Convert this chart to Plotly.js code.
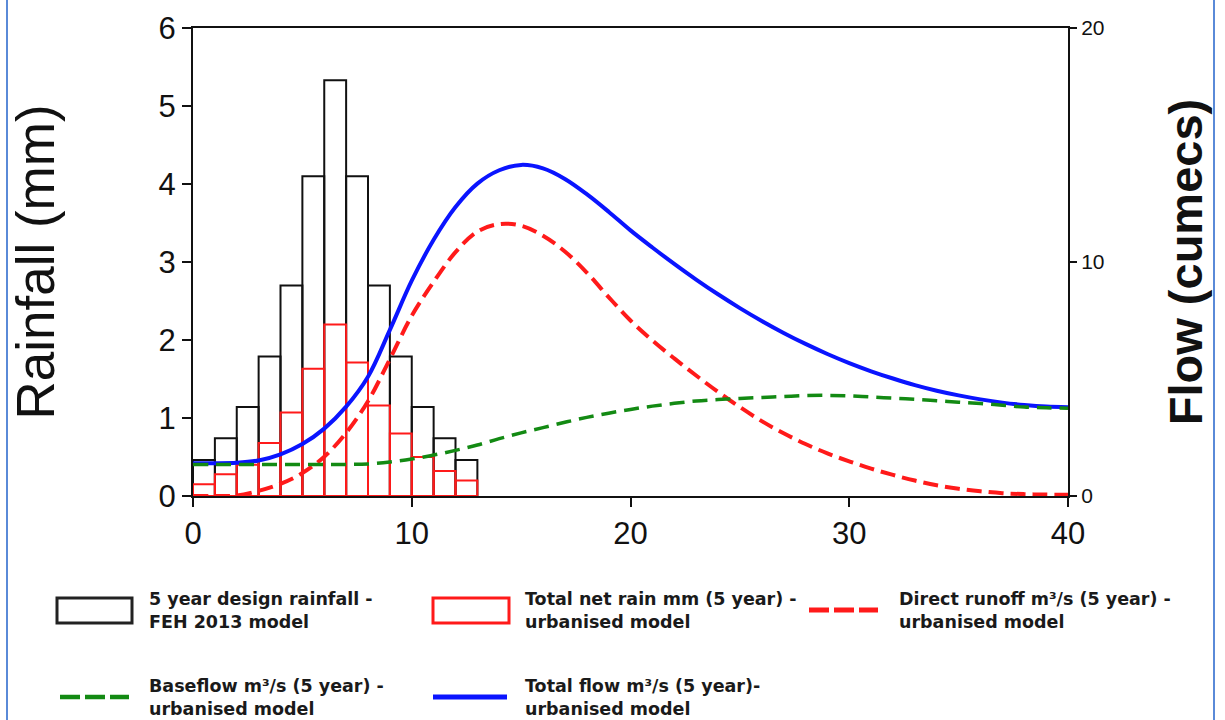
<!DOCTYPE html>
<html>
<head>
<meta charset="utf-8">
<script src="https://cdn.plot.ly/plotly-3.0.1.min.js"></script>
<style>
  html, body { margin: 0; padding: 0; background: #ffffff; }
  #chart { width: 1225px; height: 720px; }
</style>
</head>
<body>
<div id="chart"></div>
<script>
// ---- Data ----
// Hyetograph (mm per 1-hour step), bar centres
const rainHours = [0.5, 1.5, 2.5, 3.5, 4.5, 5.5, 6.5, 7.5, 8.5, 9.5, 10.5, 11.5, 12.5];
const designRain = [0.46, 0.74, 1.14, 1.79, 2.70, 4.10, 5.33, 4.10, 2.70, 1.79, 1.14, 0.74, 0.46];
const netRain = [0.15, 0.28, 0.40, 0.68, 1.07, 1.63, 2.20, 1.71, 1.16, 0.80, 0.50, 0.32, 0.20];

// Hydrograph (m3/s)
const flowHours = [0, 1, 2, 3, 4, 5, 6, 7, 8, 9, 10, 11, 12, 13, 14, 15, 16, 17, 18, 19, 20,
                   21, 22, 23, 24, 25, 26, 27, 28, 29, 30, 31, 32, 33, 34, 35, 36, 37, 38, 39, 40];
const totalFlow = [1.40, 1.40, 1.42, 1.52, 1.78, 2.22, 2.88, 3.82, 5.10, 7.10, 9.20, 10.95, 12.35, 13.35, 13.92, 14.15, 14.00, 13.55, 12.90, 12.15, 11.35,
                   10.62, 9.92, 9.25, 8.62, 8.03, 7.48, 6.97, 6.50, 6.07, 5.68, 5.33, 5.02, 4.74, 4.50, 4.30, 4.13, 3.99, 3.89, 3.82, 3.79];
const directRunoff = [0.00, 0.00, 0.02, 0.22, 0.52, 0.98, 1.68, 2.70, 4.05, 5.85, 7.70, 9.15, 10.42, 11.30, 11.62, 11.55, 11.12, 10.45, 9.55, 8.50, 7.50,
                      6.65, 5.88, 5.15, 4.45, 3.80, 3.20, 2.68, 2.22, 1.82, 1.48, 1.17, 0.90, 0.66, 0.46, 0.31, 0.20, 0.12, 0.08, 0.06, 0.05];
const baseflow = [1.35, 1.35, 1.35, 1.35, 1.35, 1.35, 1.35, 1.35, 1.37, 1.45, 1.58, 1.75, 1.95, 2.18, 2.45, 2.70, 2.92, 3.15, 3.36, 3.54, 3.70,
                  3.84, 3.96, 4.06, 4.12, 4.17, 4.21, 4.25, 4.29, 4.30, 4.28, 4.23, 4.18, 4.13, 4.07, 4.01, 3.95, 3.88, 3.80, 3.77, 3.75];

// Tick labels / ranges
const xTicks = [0, 10, 20, 30, 40];
const rainTicks = [0, 1, 2, 3, 4, 5, 6];
const flowTicks = [0, 10, 20];

// Legend labels
const legendLabels = [
  "5 year design rainfall -<br>FEH 2013 model",
  "Total net rain mm (5 year) -<br>urbanised model",
  "Direct runoff m³/s (5 year) -<br>urbanised model",
  "Baseflow m³/s (5 year) -<br>urbanised model",
  "Total flow m³/s (5 year)-<br>urbanised model"
];

// ---- Layout helpers (pixel -> paper) ----
const PL = 193, PR = 1068, PT = 28, PB = 496;
const px2x = p => (p - PL) / (PR - PL);
const py2y = p => (PB - p) / (PB - PT);

const AX = "Arial, 'Liberation Sans', sans-serif";
const LEG = "'DejaVu Sans', Verdana, sans-serif";

const traces = [
  {
    type: 'bar', x: rainHours, y: designRain, width: 1,
    marker: { color: 'rgba(255,255,255,0)', line: { color: '#111111', width: 2 } },
    name: 'design', hoverinfo: 'x+y', showlegend: false
  },
  {
    type: 'bar', x: rainHours, y: netRain, width: 1,
    marker: { color: 'rgba(255,255,255,0)', line: { color: '#ff1a1a', width: 2 } },
    name: 'net', hoverinfo: 'x+y', showlegend: false
  },
  {
    type: 'scatter', mode: 'lines', x: flowHours, y: totalFlow, yaxis: 'y2',
    line: { color: '#0a14ff', width: 4, shape: 'spline', smoothing: 1 },
    name: 'total', showlegend: false
  },
  {
    type: 'scatter', mode: 'lines', x: flowHours, y: directRunoff, yaxis: 'y2',
    line: { color: '#ff1a1a', width: 4, dash: '15px,7px', shape: 'spline', smoothing: 1 },
    name: 'direct', showlegend: false
  },
  {
    type: 'scatter', mode: 'lines', x: flowHours, y: baseflow, yaxis: 'y2',
    line: { color: '#138a13', width: 3.5, dash: '15px,8px', shape: 'spline', smoothing: 1 },
    name: 'base', showlegend: false
  }
];

// Legend built from shapes + annotations
const shapes = [
  { type: 'rect', xref: 'paper', yref: 'paper', x0: px2x(57), x1: px2x(132), y0: py2y(623), y1: py2y(598),
    line: { color: '#222222', width: 3 }, fillcolor: 'rgba(0,0,0,0)' },
  { type: 'rect', xref: 'paper', yref: 'paper', x0: px2x(433), x1: px2x(509), y0: py2y(623), y1: py2y(598),
    line: { color: '#ff1a1a', width: 3 }, fillcolor: 'rgba(0,0,0,0)' },
  { type: 'line', xref: 'paper', yref: 'paper', x0: px2x(809), x1: px2x(878), y0: py2y(610), y1: py2y(610),
    line: { color: '#ff1a1a', width: 5, dash: '20px,5px' } },
  { type: 'line', xref: 'paper', yref: 'paper', x0: px2x(60), x1: px2x(129), y0: py2y(697), y1: py2y(697),
    line: { color: '#138a13', width: 4.5, dash: '20px,5px' } },
  { type: 'line', xref: 'paper', yref: 'paper', x0: px2x(433), x1: px2x(507), y0: py2y(697), y1: py2y(697),
    line: { color: '#0a14ff', width: 5 } },
  // outer blue frame edges of the picture
  { type: 'line', xref: 'paper', yref: 'paper', x0: px2x(7), x1: px2x(7), y0: py2y(0), y1: py2y(720),
    line: { color: '#5a8ad8', width: 2 } },
  { type: 'line', xref: 'paper', yref: 'paper', x0: px2x(1214), x1: px2x(1214), y0: py2y(0), y1: py2y(720),
    line: { color: '#5a8ad8', width: 2 } }
];

const legPos = [[147, 610], [523, 610], [897, 610], [147, 697], [523, 697]];
const annotations = legendLabels.map((t, i) => ({
  xref: 'paper', yref: 'paper', x: px2x(legPos[i][0]), y: py2y(legPos[i][1]),
  xanchor: 'left', yanchor: 'middle', align: 'left', showarrow: false,
  text: '<b>' + t + '</b>', font: { family: LEG, size: 17.5, color: '#1a1a1a' }
}));

const layout = {
  width: 1225, height: 720,
  margin: { l: PL, r: 1225 - PR, t: PT, b: 720 - PB, pad: 0 },
  paper_bgcolor: '#ffffff', plot_bgcolor: '#ffffff',
  barmode: 'overlay', bargap: 0,
  showlegend: false,
  xaxis: {
    range: [0, 40], tickvals: xTicks, ticktext: xTicks.map(String),
    ticks: 'outside', ticklen: 9, tickwidth: 2, tickcolor: '#111',
    showline: true, linecolor: '#111', linewidth: 2, mirror: true,
    showgrid: false, zeroline: false,
    tickfont: { family: AX, size: 31, color: '#111' }
  },
  yaxis: {
    range: [0, 6], tickvals: rainTicks, ticktext: rainTicks.map(String),
    ticks: 'outside', ticklen: 9, tickwidth: 2, tickcolor: '#111',
    showline: true, linecolor: '#111', linewidth: 2,
    showgrid: false, zeroline: false,
    tickfont: { family: AX, size: 31, color: '#111' },
    title: { text: 'Rainfall (mm)', font: { family: AX, size: 53, color: '#111' }, standoff: 87 }
  },
  yaxis2: {
    range: [0, 20], tickvals: flowTicks, ticktext: flowTicks.map(String),
    overlaying: 'y', side: 'right',
    ticks: 'outside', ticklen: 7, tickwidth: 2, tickcolor: '#111',
    showline: true, linecolor: '#111', linewidth: 2,
    showgrid: false, zeroline: false,
    tickfont: { family: AX, size: 21, color: '#111' },
    title: { text: '<b>Flow (cumecs)</b>', font: { family: AX, size: 47, color: '#111' }, standoff: 66 }
  },
  shapes: shapes,
  annotations: annotations
};

Plotly.newPlot('chart', traces, layout, { displayModeBar: false, staticPlot: true });
</script>
</body>
</html>
